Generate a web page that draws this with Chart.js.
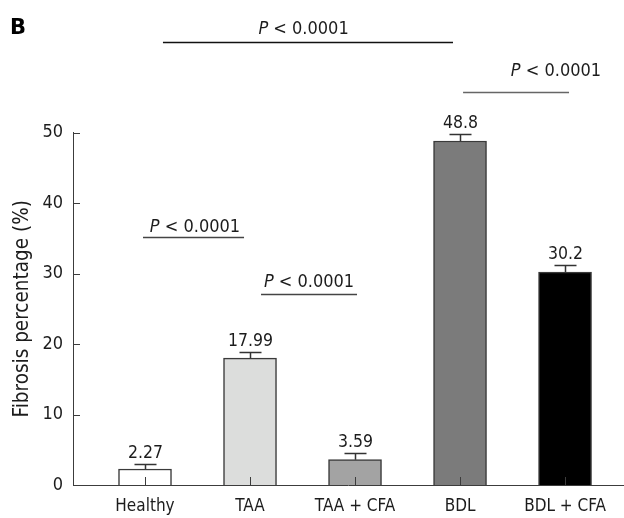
<!DOCTYPE html>
<html>
<head>
<meta charset="utf-8">
<script src="https://cdn.jsdelivr.net/npm/chart.js@4.4.1/dist/chart.umd.min.js"></script>
<style>
  html, body { margin: 0; padding: 0; background: #ffffff; }
  #wrap { width: 624px; height: 518px; }
</style>
</head>
<body>
<div id="wrap"><canvas id="chart" width="624" height="518"></canvas></div>
<script>
// Groups and mean fibrosis percentage with SEM
const categories = ['Healthy', 'TAA', 'TAA + CFA', 'BDL', 'BDL + CFA'];
const fibrosis = [2.27, 17.99, 3.59, 48.8, 30.2];
const sem = [0.7, 0.85, 0.9, 1.0, 1.0];
const yTicks = [0, 10, 20, 30, 40, 50];
const barColors = ['#ffffff', '#dcdddc', '#a3a3a3', '#7b7b7b', '#000000'];
const pText = ['P', ' < 0.0001'];

const FONT = "'DejaVu Sans Condensed', 'Noto Sans', sans-serif";
const INK = '#1c1c1c';
const AXIS = '#3c3c3c';

// Significance brackets, in axis units (x: group position, y: percentage)
const brackets = [
  { x1: 1.171, x2: 3.933, y: 62.88, tx: 2.51, ty: 64.0, color: '#111111' },
  { x1: 4.029, x2: 5.038, y: 55.78, tx: 4.914, ty: 58.05, color: '#666666' },
  { x1: 0.981, x2: 1.943, y: 35.2, tx: 1.476, ty: 35.9, color: '#444444' },
  { x1: 2.105, x2: 3.019, y: 27.1, tx: 2.562, ty: 28.1, color: '#444444' }
];

const overlay = {
  id: 'overlay',
  afterDatasetsDraw(chart) {
    const ctx = chart.ctx;
    const xs = chart.scales.x, ys = chart.scales.y;
    const area = chart.chartArea;
    ctx.save();

    // inward tick marks
    ctx.strokeStyle = AXIS;
    ctx.lineWidth = 1;
    yTicks.forEach(v => {
      const py = Math.round(ys.getPixelForValue(v)) + 0.5;
      ctx.beginPath();
      ctx.moveTo(area.left, py);
      ctx.lineTo(area.left + 7, py);
      ctx.stroke();
    });
    categories.forEach((c, i) => {
      const px = Math.round(xs.getPixelForValue(i + 1)) + 0.5;
      ctx.beginPath();
      ctx.moveTo(px, area.bottom);
      ctx.lineTo(px, area.bottom - 8);
      ctx.stroke();
    });

    // error bars and value labels
    ctx.font = '17.5px ' + FONT;
    ctx.fillStyle = INK;
    ctx.textAlign = 'center';
    ctx.textBaseline = 'alphabetic';
    categories.forEach((c, i) => {
      const px = Math.round(xs.getPixelForValue(i + 1)) + 0.5;
      const top = ys.getPixelForValue(fibrosis[i]);
      const cap = Math.round(ys.getPixelForValue(fibrosis[i] + sem[i])) + 0.5;
      ctx.strokeStyle = '#333333';
      ctx.lineWidth = 1.5;
      ctx.beginPath();
      ctx.moveTo(px, top);
      ctx.lineTo(px, cap);
      ctx.moveTo(px - 11, cap);
      ctx.lineTo(px + 11, cap);
      ctx.stroke();
      ctx.fillText(String(fibrosis[i]), px, cap - 7);
    });

    // significance brackets
    const italic = 'italic 18px ' + FONT;
    const normal = '18px ' + FONT;
    brackets.forEach(b => {
      const y = Math.round(ys.getPixelForValue(b.y)) + 0.5;
      ctx.strokeStyle = b.color;
      ctx.lineWidth = 1.5;
      ctx.beginPath();
      ctx.moveTo(xs.getPixelForValue(b.x1), y);
      ctx.lineTo(xs.getPixelForValue(b.x2), y);
      ctx.stroke();

      ctx.font = italic;
      const w1 = ctx.measureText(pText[0]).width;
      ctx.font = normal;
      const w2 = ctx.measureText(pText[1]).width;
      const cx = xs.getPixelForValue(b.tx);
      const by = ys.getPixelForValue(b.ty);
      const start = cx - (w1 + w2) / 2;
      ctx.textAlign = 'left';
      ctx.fillStyle = INK;
      ctx.font = italic;
      ctx.fillText(pText[0], start, by);
      ctx.font = normal;
      ctx.fillText(pText[1], start + w1, by);
    });

    // panel letter
    ctx.font = "bold 21px 'DejaVu Sans', sans-serif";
    ctx.fillStyle = '#000000';
    ctx.textAlign = 'left';
    ctx.fillText('B', 10, 34);
    ctx.restore();
  }
};

new Chart(document.getElementById('chart'), {
  type: 'bar',
  data: {
    datasets: [{
      data: categories.map((c, i) => ({ x: i + 1, y: fibrosis[i] })),
      backgroundColor: barColors,
      borderColor: '#3a3a3a',
      borderWidth: 1.5,
      barThickness: 53
    }]
  },
  options: {
    responsive: false,
    animation: false,
    devicePixelRatio: 1,
    layout: { padding: { top: 132.5, right: 1, left: 0, bottom: 0 } },
    plugins: { legend: { display: false }, tooltip: { enabled: false } },
    scales: {
      x: {
        type: 'linear',
        offset: false,
        min: 0.3143,
        max: 5.552,
        afterBuildTicks: s => { s.ticks = categories.map((c, i) => ({ value: i + 1 })); },
        afterFit: s => { s.height = 33; },
        ticks: {
          callback: v => categories[v - 1],
          font: { family: FONT, size: 17 },
          color: INK,
          padding: 11,
          autoSkip: false,
          maxRotation: 0
        },
        grid: { display: false, drawTicks: false, offset: false },
        border: { color: AXIS, width: 1 }
      },
      y: {
        min: 0,
        max: 50,
        afterBuildTicks: s => { s.ticks = yTicks.map(v => ({ value: v })); },
        afterFit: s => { s.width = 73; },
        ticks: {
          font: { family: FONT, size: 18 },
          color: INK,
          padding: 10
        },
        grid: { display: false, drawTicks: false },
        border: { color: AXIS, width: 1 },
        title: {
          display: true,
          text: 'Fibrosis percentage (%)',
          font: { family: FONT, size: 20.5 },
          color: INK,
          padding: { top: 10, bottom: 0 }
        }
      }
    }
  },
  plugins: [overlay]
});
</script>
</body>
</html>
